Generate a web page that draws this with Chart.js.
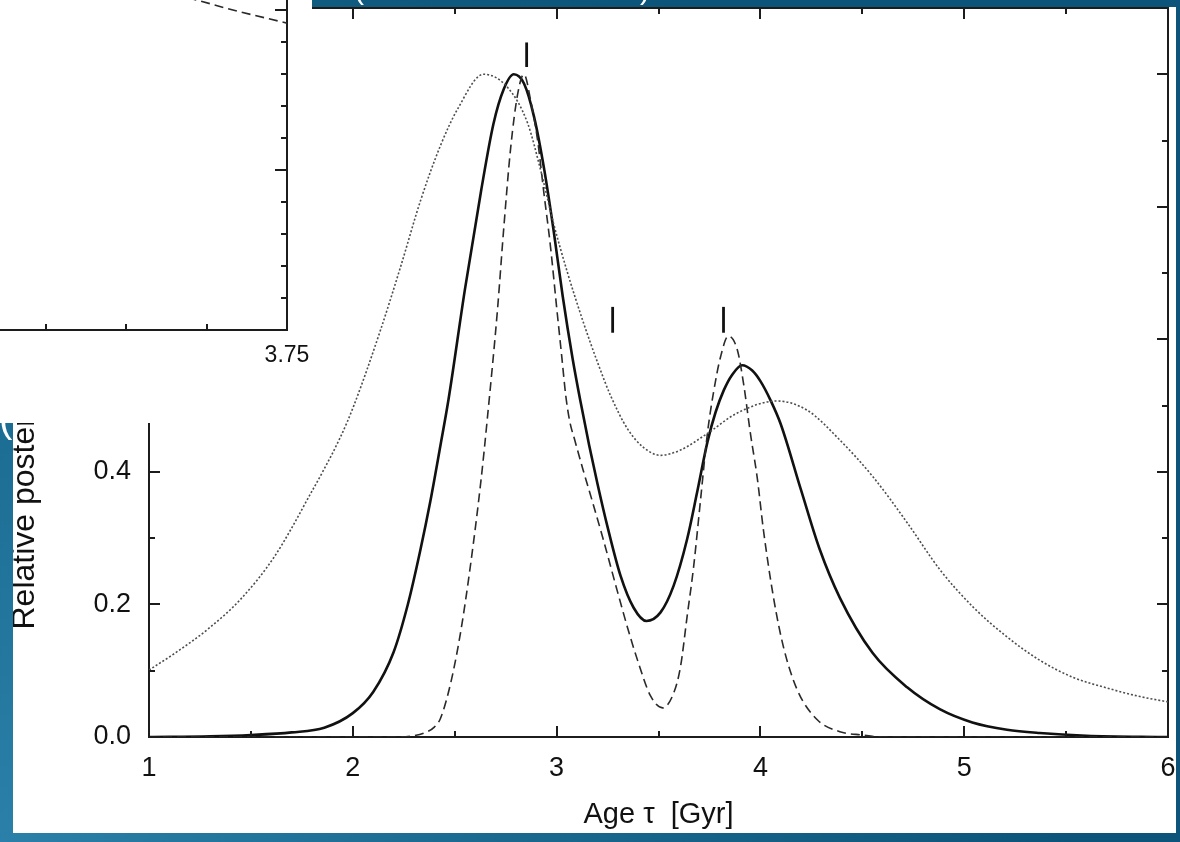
<!DOCTYPE html>
<html>
<head>
  <meta charset="UTF-8" />
  <title>Relative posterior vs age</title>
  <style>
    html, body {
      margin: 0;
      padding: 0;
    }
    body {
      position: relative;
      width: 1180px;
      height: 842px;
      overflow: hidden;
      background: radial-gradient(circle at 0% 100%, #2a80a9 0%, #19698f 35%, #0c5479 75%);
      font-family: "Liberation Sans", Arial, sans-serif;
    }
    .frame {
      position: absolute;
      background: radial-gradient(circle at 0% 100%, #2a80a9 0%, #19698f 35%, #0c5479 75%);
      background-attachment: fixed;
      background-size: 1180px 842px;
      overflow: hidden;
      z-index: 2;
    }
    #plot {
      position: absolute;
      left: 0;
      top: 0;
      width: 1176px;
      height: 833px;
      background: #fff;
      z-index: 1;
    }
    #topbar { left: 312px; top: 0; width: 868px; height: 7px; }
    #leftbar { left: 0; top: 423px; width: 13px; height: 410px; }
    .paren {
      position: absolute;
      top: -26px;
      color: #fff;
      font-size: 30px;
      line-height: 30px;
    }
    #leftbar .paren {
      top: -25px;
      font-size: 40px;
      line-height: 40px;
    }
    #inset {
      position: absolute;
      left: 0;
      top: 0;
      width: 312px;
      height: 423px;
      overflow: hidden;
      background: #fff;
      z-index: 3;
    }
    #insetChart {
      position: absolute;
      left: -250px;
      top: -80px;
    }
  </style>
  <script src="https://cdn.jsdelivr.net/npm/chart.js"></script>
</head>
<body>

<div id="plot"><canvas id="ageChart" width="1176" height="833"></canvas></div>
<div class="frame" id="topbar">
  <span class="paren" style="left: 42px;">(</span>
  <span class="paren" style="left: 328px;">)</span>
</div>
<div class="frame" id="leftbar"><span class="paren" style="left: -1px;">(</span></div>
<div id="inset"><canvas id="insetChart" width="562" height="503"></canvas></div>

<script>
// Solid curve: age [Gyr] and relative posterior
const solidAge = [1.0, 1.3, 1.5, 1.7, 1.86, 2.0, 2.1, 2.2, 2.27, 2.33, 2.38, 2.43, 2.47, 2.55, 2.63, 2.69, 2.74, 2.79, 2.84, 2.89,
  2.94, 2.985, 3.03, 3.078, 3.118, 3.16, 3.2, 3.25, 3.314, 3.378, 3.441, 3.51, 3.574, 3.64, 3.69, 3.74, 3.78, 3.82, 3.86, 3.91,
  3.96, 4.0, 4.05, 4.1, 4.2, 4.29, 4.39, 4.55, 4.72, 4.88, 5.04, 5.21, 5.37, 5.6, 6.0];
const solidProb = [0, 0.001, 0.003, 0.007, 0.014, 0.036, 0.068, 0.128, 0.2, 0.28, 0.355, 0.44, 0.51, 0.675, 0.825, 0.925, 0.977, 1.0, 0.986, 0.935,
  0.855, 0.765, 0.665, 0.572, 0.505, 0.44, 0.383, 0.317, 0.243, 0.195, 0.175, 0.188, 0.228, 0.298, 0.37, 0.445, 0.49, 0.523, 0.546, 0.561,
  0.553, 0.537, 0.508, 0.472, 0.372, 0.284, 0.21, 0.127, 0.075, 0.042, 0.022, 0.011, 0.006, 0.002, 0];

// Dashed curve
const dashAge = [1.0, 2.2, 2.3, 2.35, 2.4, 2.43, 2.48, 2.53, 2.58, 2.63, 2.66, 2.71, 2.74, 2.775, 2.81, 2.84, 2.873, 2.907, 2.936, 2.97,
  3.0, 3.025, 3.045, 3.064, 3.09, 3.13, 3.176, 3.23, 3.299, 3.35, 3.397, 3.461, 3.52, 3.574, 3.608, 3.64, 3.672, 3.706, 3.74, 3.77,
  3.804, 3.843, 3.887, 3.917, 3.951, 3.985, 4.015, 4.064, 4.113, 4.181, 4.279, 4.39, 4.5, 4.6, 6.0];
const dashProb = [0, 0, 0.002, 0.006, 0.015, 0.028, 0.081, 0.16, 0.265, 0.39, 0.48, 0.645, 0.765, 0.89, 0.972, 1.0, 0.96, 0.9, 0.825, 0.74,
  0.649, 0.575, 0.515, 0.477, 0.447, 0.403, 0.355, 0.297, 0.219, 0.163, 0.116, 0.062, 0.044, 0.066, 0.106, 0.181, 0.256, 0.357, 0.458, 0.52,
  0.573, 0.605, 0.584, 0.534, 0.458, 0.39, 0.312, 0.211, 0.136, 0.071, 0.026, 0.008, 0.003, 0, 0];

// Dotted curve
const dotAge = [1.0, 1.125, 1.29, 1.45, 1.615, 1.78, 1.94, 2.005, 2.137, 2.235, 2.333, 2.431, 2.515, 2.642, 2.76, 2.858, 2.922, 2.985,
  3.054, 3.132, 3.2, 3.265, 3.348, 3.426, 3.51, 3.608, 3.74, 3.887, 4.08, 4.23, 4.39, 4.554, 4.721, 4.882, 5.044, 5.21, 5.37, 5.534,
  5.7, 5.863, 6.0];
const dotProb = [0.101, 0.126, 0.163, 0.208, 0.272, 0.36, 0.453, 0.5, 0.615, 0.71, 0.81, 0.893, 0.948, 1.0, 0.98, 0.926, 0.855, 0.775,
  0.70, 0.625, 0.566, 0.515, 0.465, 0.437, 0.425, 0.433, 0.458, 0.489, 0.507, 0.493, 0.448, 0.392, 0.323, 0.252, 0.196, 0.151, 0.116, 0.09,
  0.074, 0.061, 0.053];

// Short vertical markers above the peaks
const markerAge = [2.853, 3.275, 3.819];
const markerLow = [1.011, 0.610, 0.610];
const markerHigh = [1.048, 0.649, 0.649];

// Inset panel (right/bottom corner only)
const insetAge = [3.62, 3.68, 3.708, 3.75];
const insetProb = [1.09, 1.031, 1.0, 0.959];

const frameColor = "#1c1c1c";

Chart.defaults.font.family = "'Liberation Sans', Arial, Helvetica, sans-serif";
Chart.defaults.color = "#111";
Chart.defaults.animation = false;

function points(xs, ys) {
  return xs.map((x, i) => ({ x: x, y: ys[i] }));
}

// fixed box size for a scale, and no extra room for overhanging labels
function fixBox(size) {
  return s => {
    if (s.isHorizontal()) s.height = size; else s.width = size;
    s.paddingLeft = s.paddingRight = s.paddingTop = s.paddingBottom = 0;
  };
}

// Tick marks drawn on the inside of every axis, longer at major steps
const innerTicks = {
  id: "innerTicks",
  afterDraw(chart, args, opts) {
    const ctx = chart.ctx;
    const area = chart.chartArea;
    ctx.save();
    ctx.strokeStyle = opts.color;
    ctx.lineWidth = opts.width;
    Object.values(chart.scales).forEach(scale => {
      const step = opts.majorStep[scale.id];
      if (!step) return;
      scale.ticks.forEach(tick => {
        const r = tick.value / step;
        const len = Math.abs(r - Math.round(r)) < 1e-6 ? opts.major : opts.minor;
        const p = Math.round(scale.getPixelForValue(tick.value));
        ctx.beginPath();
        if (scale.position === "bottom") { ctx.moveTo(p, area.bottom); ctx.lineTo(p, area.bottom - len); }
        if (scale.position === "top") { ctx.moveTo(p, area.top); ctx.lineTo(p, area.top + len); }
        if (scale.position === "left") { ctx.moveTo(area.left, p); ctx.lineTo(area.left + len, p); }
        if (scale.position === "right") { ctx.moveTo(area.right, p); ctx.lineTo(area.right - len, p); }
        ctx.stroke();
      });
    });
    ctx.restore();
  }
};

const border = { display: true, color: frameColor, width: 2 };
const noGrid = { display: false, drawTicks: false };

const curveStyle = {
  pointRadius: 0,
  fill: false,
  cubicInterpolationMode: "monotone",
  xAxisID: "x",
  yAxisID: "y"
};

const datasets = [
  Object.assign({ data: points(dotAge, dotProb), borderColor: "#4d4d4d", borderWidth: 1.6, borderDash: [2, 2] }, curveStyle),
  Object.assign({ data: points(dashAge, dashProb), borderColor: "#2a2a2a", borderWidth: 1.6, borderDash: [9, 5] }, curveStyle),
  Object.assign({ data: points(solidAge, solidProb), borderColor: "#111", borderWidth: 2.6 }, curveStyle)
];
markerAge.forEach((a, i) => {
  datasets.push(Object.assign({
    data: points([a, a], [markerLow[i], markerHigh[i]]),
    borderColor: "#111",
    borderWidth: 2.8
  }, curveStyle));
});

new Chart(document.getElementById("ageChart"), {
  type: "line",
  data: { datasets: datasets },
  options: {
    responsive: false,
    devicePixelRatio: 1,
    layout: { padding: 0 },
    scales: {
      x: {
        type: "linear", position: "bottom", min: 1, max: 6,
        ticks: {
          stepSize: 0.5, autoSkip: false, maxRotation: 0, padding: 15,
          font: { size: 27 },
          callback: v => Number.isInteger(v) ? String(v) : ""
        },
        grid: noGrid, border: border,
        title: { display: true, text: "Age τ  [Gyr]", font: { size: 29 }, padding: { top: 0, bottom: 1 } },
        afterFit: fixBox(96)
      },
      xTop: {
        type: "linear", position: "top", min: 1, max: 6,
        ticks: { display: false, stepSize: 0.5 },
        grid: noGrid, border: border,
        afterFit: fixBox(8)
      },
      y: {
        type: "linear", position: "left", min: 0, max: 1.1,
        ticks: {
          stepSize: 0.1, autoSkip: false, padding: 18,
          font: { size: 27 },
          callback: v => Math.round(v * 10) % 2 === 0 ? v.toFixed(1) : ""
        },
        grid: noGrid, border: border,
        title: { display: true, text: "Relative posterior probability density", font: { size: 32 }, padding: { top: 6, bottom: 0 } },
        afterFit: fixBox(149)
      },
      yRight: {
        type: "linear", position: "right", min: 0, max: 1.1,
        ticks: { display: false, stepSize: 0.1 },
        grid: noGrid, border: border,
        afterFit: fixBox(8)
      }
    },
    plugins: {
      legend: { display: false },
      tooltip: { enabled: false },
      innerTicks: { color: frameColor, width: 2, major: 11, minor: 6, majorStep: { x: 1, xTop: 1, y: 0.2, yRight: 0.2 } }
    }
  },
  plugins: [innerTicks]
});

new Chart(document.getElementById("insetChart"), {
  type: "line",
  data: {
    datasets: [Object.assign({ data: points(insetAge, insetProb), borderColor: "#2a2a2a", borderWidth: 1.6, borderDash: [9, 5] }, curveStyle)]
  },
  options: {
    responsive: false,
    devicePixelRatio: 1,
    layout: { padding: { left: 54, top: 26, right: 0, bottom: 0 } },
    scales: {
      x: {
        type: "linear", position: "bottom", min: 3.375, max: 3.75,
        ticks: {
          stepSize: 0.0625, autoSkip: false, maxRotation: 0, padding: 12,
          font: { size: 23 },
          callback: v => Math.abs(v * 4 - Math.round(v * 4)) < 1e-6 ? v.toFixed(2) : ""
        },
        grid: noGrid, border: border,
        afterFit: fixBox(93)
      },
      y: {
        type: "linear", position: "right", min: 0, max: 1.2,
        ticks: { display: false, stepSize: 0.1 },
        grid: noGrid, border: border,
        afterFit: fixBox(25)
      }
    },
    plugins: {
      legend: { display: false },
      tooltip: { enabled: false },
      innerTicks: { color: frameColor, width: 2, major: 12, minor: 6, majorStep: { x: 0.25, y: 0.5 } }
    }
  },
  plugins: [innerTicks]
});
</script>

</body>
</html>
